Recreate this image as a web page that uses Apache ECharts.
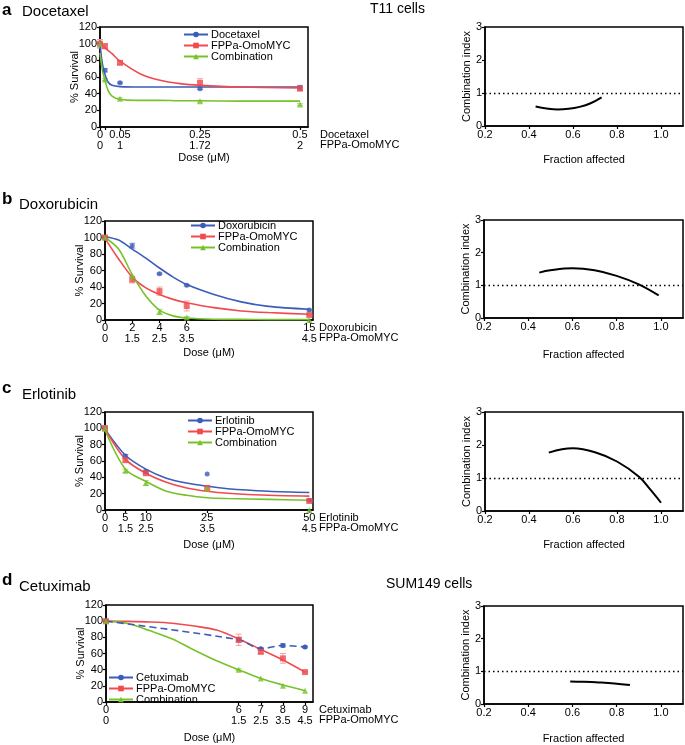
<!DOCTYPE html>
<html>
<head>
<meta charset="utf-8">
<script src="https://cdn.jsdelivr.net/npm/echarts@6/dist/echarts.min.js"></script>
<style>
  html, body { margin: 0; padding: 0; background: #fff; }
  #chart { width: 685px; height: 745px; }
</style>
</head>
<body>
<div id="chart"></div>
<script>
// ---- a: Docetaxel (T11 cells) ----
const aTicks = [0, 0.0125, 0.05, 0.25, 0.5];
const aTickTop = ['0', '', '0.05', '0.25', '0.5'];
const aTickBot = ['0', '', '1', '1.72', '2'];
const aDose = [0, 0.0125, 0.05, 0.25, 0.5];
const aDrug = [100, 68, 53, 46, 47];
const aDrugSd = [5, 2, 1, 1, 3];
const aFppa = [100, 97, 77, 53, 46];
const aFppaSd = [5, 3, 2, 5, 2];
const aCombo = [100, 57, 34, 31, 27];
const aComboSd = [0, 1, 1, 1, 1];
const aFitX = [0, 0.004, 0.008, 0.0125, 0.02, 0.03, 0.05, 0.1, 0.15, 0.2, 0.25, 0.35, 0.5];
const aDrugFit = [100, 82, 71, 63, 54, 50, 48.5, 48, 48, 48, 48, 48, 48];
const aFppaFit = [100, 98.5, 97, 95, 92, 88, 79, 64, 56, 52, 50, 48, 47];
const aComboFit = [89, 74, 64, 56, 44, 37, 33, 32, 32, 31.5, 31.5, 31, 31];
const aFa = [0.43, 0.48, 0.53, 0.58, 0.63, 0.68, 0.73];
const aCi = [0.59, 0.53, 0.50, 0.52, 0.58, 0.69, 0.87];

// ---- b: Doxorubicin ----
const bTicks = [0, 2, 4, 6, 15];
const bTickTop = ['0', '2', '4', '6', '15'];
const bTickBot = ['0', '1.5', '2.5', '3.5', '4.5'];
const bDose = [0, 2, 4, 6, 15];
const bDrug = [100, 90, 56, 42, 12];
const bDrugSd = [1, 3, 1, 1, 1];
const bFppa = [100, 49, 35, 17, 6];
const bFppaSd = [1, 4, 5, 6, 1];
const bCombo = [100, 53, 10, 3, 0];
const bComboSd = [0, 0, 3, 1, 0];
const bFitX = [0, 1, 2, 3, 4, 5, 6, 8, 10, 12, 15];
const bDrugFit = [101, 97, 86, 75, 63, 52, 43, 31, 22, 16.5, 13];
const bFppaFit = [99, 74, 52, 39, 31, 25, 21, 15, 11, 9, 7];
const bComboFit = [100, 86, 55, 29, 12, 5, 2.5, 1, 0.7, 0.5, 0.5];
const bFa = [0.45, 0.5, 0.6, 0.7, 0.8, 0.9, 0.99];
const bCi = [1.39, 1.46, 1.52, 1.46, 1.29, 1.03, 0.69];

// ---- c: Erlotinib ----
const cTicks = [0, 5, 10, 25, 50];
const cTickTop = ['0', '5', '10', '25', '50'];
const cTickBot = ['0', '1.5', '2.5', '3.5', '4.5'];
const cDose = [0, 5, 10, 25, 50];
const cDrug = [100, 66, 47, 44, 12];
const cDrugSd = [3, 2, 2, 0, 1];
const cFppa = [100, 61, 45, 27, 11];
const cFppaSd = [3, 2, 2, 3, 1];
const cCombo = [100, 48, 33, 26, 0];
const cComboSd = [0, 2, 3, 0, 0];
const cFitX = [0, 5, 10, 15, 20, 25, 30, 40, 50];
const cDrugFit = [99, 67, 50, 39, 33, 29, 26, 23, 21.5];
const cFppaFit = [99, 62, 45, 34, 27, 23, 20.5, 18, 17];
const cComboFit = [98, 50, 35, 23, 18, 15, 14, 13, 12];
const cFa = [0.49, 0.55, 0.6, 0.7, 0.8, 0.9, 0.95, 1.0];
const cCi = [1.77, 1.87, 1.9, 1.78, 1.5, 1.04, 0.66, 0.25];

// ---- d: Cetuximab (SUM149 cells) ----
const dTicks = [0, 6, 7, 8, 9];
const dTickTop = ['0', '6', '7', '8', '9'];
const dTickBot = ['0', '1.5', '2.5', '3.5', '4.5'];
const dDose = [0, 6, 7, 8, 9];
const dDrug = [100, 77, 66, 70, 68];
const dDrugSd = [1, 3, 1, 2, 1];
const dFppa = [100, 77, 62, 54, 37];
const dFppaSd = [1, 7, 2, 6, 1];
const dCombo = [100, 40, 29, 20, 14];
const dComboSd = [0, 1, 0, 0, 0];
const dFitX = [0, 1, 2, 3, 4, 5, 6, 7, 8, 9];
const dFppaFit = [100, 99.7, 99, 97.5, 94, 89, 78, 65, 52, 37];
const dComboFit = [100, 97, 88, 78, 64, 51, 40, 29, 21, 14];
const dFa = [0.59, 0.65, 0.72, 0.79, 0.86];
const dCi = [0.69, 0.68, 0.66, 0.63, 0.58];

const BLUE = '#3b5cb8', RED = '#f04a4e', GREEN = '#76c22a';
const BLUE_E = '#8196d6', RED_E = '#f5a0a2', GREEN_E = '#acd77c';
const FONT = '"Liberation Sans", Arial, sans-serif';

const chart = echarts.init(document.getElementById('chart'));

const grids = [], xAxes = [], yAxes = [], series = [], legends = [], graphics = [];

const zip = (xs, ys) => xs.map((x, i) => [x, ys[i]]);

function errBars(gi, xs, ys, sd, color) {
  return {
    type: 'custom', xAxisIndex: gi, yAxisIndex: gi, silent: true, z: 1, clip: false,
    data: xs.map((x, i) => [x, ys[i] - sd[i], ys[i] + sd[i]]).filter(d => d[2] - d[1] > 0),
    renderItem: function (params, api) {
      const lo = api.coord([api.value(0), api.value(1)]);
      const hi = api.coord([api.value(0), api.value(2)]);
      const st = { stroke: color, lineWidth: 1 };
      return { type: 'group', children: [
        { type: 'line', shape: { x1: lo[0], y1: lo[1], x2: hi[0], y2: hi[1] }, style: st },
        { type: 'line', shape: { x1: lo[0] - 3, y1: lo[1], x2: lo[0] + 3, y2: lo[1] }, style: st },
        { type: 'line', shape: { x1: hi[0] - 3, y1: hi[1], x2: hi[0] + 3, y2: hi[1] }, style: st }
      ] };
    }
  };
}

function frame(rect) {
  grids.push(Object.assign({ show: true, borderColor: '#000', borderWidth: 1.5, backgroundColor: 'transparent' }, rect));
  return grids.length - 1;
}

const axisCommon = {
  axisLine: { show: true, lineStyle: { color: '#000', width: 1.5 } },
  axisTick: { show: true, length: 3, lineStyle: { color: '#000', width: 1.2 } },
  splitLine: { show: false },
  nameTextStyle: { fontFamily: FONT, fontSize: 11, color: '#000' }
};

function survivalPanel(rect, p) {
  const gi = frame(rect);
  xAxes.push(Object.assign({}, axisCommon, {
    gridIndex: gi, type: 'value', min: 0, max: p.xMax,
    name: 'Dose (μM)', nameLocation: 'middle', nameGap: p.nameGap,
    axisTick: Object.assign({}, axisCommon.axisTick, { customValues: p.ticks }),
    axisLabel: {
      customValues: p.ticks, margin: 3, fontFamily: FONT, fontSize: 11, color: '#000', lineHeight: 10.5,
      formatter: v => { const i = p.ticks.indexOf(v); return i < 0 ? '' : p.top[i] + '\n' + p.bot[i]; }
    }
  }));
  yAxes.push(Object.assign({}, axisCommon, {
    gridIndex: gi, type: 'value', min: 0, max: 120, interval: 20,
    name: '% Survival', nameLocation: 'middle', nameGap: 20, nameMoveOverlap: false,
    axisLabel: { margin: 3, fontFamily: FONT, fontSize: 11, color: '#000' }
  }));
  const sets = [
    [p.names[0], BLUE, BLUE_E, 'circle', 5, p.drug, p.drugSd, p.drugFit],
    [p.names[1], RED, RED_E, 'rect', 6, p.fppa, p.fppaSd, p.fppaFit],
    [p.names[2], GREEN, GREEN_E, 'triangle', 6, p.combo, p.comboSd, p.comboFit]
  ];
  sets.forEach(([name, col, ecol, sym, size, ys, sd, fit]) => {
    series.push(errBars(gi, p.dose, ys, sd, ecol));
    if (fit) {
      series.push({
        name: name, type: 'line', xAxisIndex: gi, yAxisIndex: gi, data: zip(p.fitX, fit),
        smooth: 0.3, symbol: sym, symbolSize: size, showSymbol: false,
        lineStyle: { color: col, width: 1.6 }, itemStyle: { color: col }, z: 2, silent: true
      });
      series.push({
        name: name + ' data', type: 'scatter', xAxisIndex: gi, yAxisIndex: gi, data: zip(p.dose, ys),
        symbol: sym, symbolSize: size, itemStyle: { color: col }, z: 3, clip: false
      });
    } else {
      // connected dashed line through the measured points
      series.push({
        name: name, type: 'line', xAxisIndex: gi, yAxisIndex: gi, data: zip(p.dose, ys),
        smooth: 0.3, symbol: sym, symbolSize: size, showSymbol: true,
        lineStyle: { color: col, width: 1.6, type: [7, 4] }, itemStyle: { color: col }, z: 3
      });
    }
  });
  legends.push({
    data: p.names, left: p.legend[0], top: p.legend[1], orient: 'vertical',
    itemWidth: 24, itemHeight: 7, itemGap: 0, padding: 0, selectedMode: false,
    lineStyle: { type: 'solid' },
    textStyle: { fontFamily: FONT, fontSize: 11, color: '#000', lineHeight: 10.5, padding: [0, 0, 0, -2] }
  });
  graphics.push({
    type: 'text', left: p.sideX, top: rect.top + rect.height + 2,
    style: { text: p.names[0] + '\nFPPa-OmoMYC', font: '11px ' + FONT, fill: '#000', lineHeight: 10.5 }
  });
}

function ciPanel(rect, fa, ci, nameGap) {
  const gi = frame(rect);
  xAxes.push(Object.assign({}, axisCommon, {
    gridIndex: gi, type: 'value', min: 0.2, max: 1.1,
    name: 'Fraction affected', nameLocation: 'middle', nameGap: nameGap,
    axisTick: Object.assign({}, axisCommon.axisTick, { customValues: [0.2, 0.4, 0.6, 0.8, 1.0] }),
    axisLabel: { customValues: [0.2, 0.4, 0.6, 0.8, 1.0], margin: 3, fontFamily: FONT, fontSize: 11, color: '#000',
      formatter: v => v.toFixed(1) }
  }));
  yAxes.push(Object.assign({}, axisCommon, {
    gridIndex: gi, type: 'value', min: 0, max: 3, interval: 1,
    name: 'Combination index', nameLocation: 'middle', nameGap: 13,
    axisLabel: { margin: 3, fontFamily: FONT, fontSize: 11, color: '#000' }
  }));
  series.push({
    type: 'line', xAxisIndex: gi, yAxisIndex: gi, data: zip(fa, ci), smooth: 0.4, showSymbol: false,
    symbol: 'none', lineStyle: { color: '#000', width: 2 }, silent: true,
    markLine: { silent: true, symbol: 'none', label: { show: false },
      lineStyle: { color: '#000', type: [1.5, 3], width: 1.4 }, data: [{ yAxis: 1 }] }
  });
}

survivalPanel({ left: 100, top: 27, width: 208, height: 100 }, {
  xMax: 0.52, ticks: aTicks, top: aTickTop, bot: aTickBot, nameGap: 25, sideX: 320,
  names: ['Docetaxel', 'FPPa-OmoMYC', 'Combination'], legend: [183, 29],
  dose: aDose, drug: aDrug, drugSd: aDrugSd, fppa: aFppa, fppaSd: aFppaSd, combo: aCombo, comboSd: aComboSd,
  fitX: aFitX, drugFit: aDrugFit, fppaFit: aFppaFit, comboFit: aComboFit
});
ciPanel({ left: 485, top: 27, width: 198, height: 99 }, aFa, aCi, 28);

survivalPanel({ left: 105, top: 221, width: 208, height: 99 }, {
  xMax: 15.27, ticks: bTicks, top: bTickTop, bot: bTickBot, nameGap: 27, sideX: 319,
  names: ['Doxorubicin', 'FPPa-OmoMYC', 'Combination'], legend: [190, 220],
  dose: bDose, drug: bDrug, drugSd: bDrugSd, fppa: bFppa, fppaSd: bFppaSd, combo: bCombo, comboSd: bComboSd,
  fitX: bFitX, drugFit: bDrugFit, fppaFit: bFppaFit, comboFit: bComboFit
});
ciPanel({ left: 484, top: 220, width: 199, height: 98 }, bFa, bCi, 31);

survivalPanel({ left: 105, top: 412, width: 208, height: 98 }, {
  xMax: 50.9, ticks: cTicks, top: cTickTop, bot: cTickBot, nameGap: 29, sideX: 319,
  names: ['Erlotinib', 'FPPa-OmoMYC', 'Combination'], legend: [187, 415],
  dose: cDose, drug: cDrug, drugSd: cDrugSd, fppa: cFppa, fppaSd: cFppaSd, combo: cCombo, comboSd: cComboSd,
  fitX: cFitX, drugFit: cDrugFit, fppaFit: cFppaFit, comboFit: cComboFit
});
ciPanel({ left: 485, top: 412, width: 198, height: 99 }, cFa, cCi, 28);

survivalPanel({ left: 106, top: 605, width: 207, height: 97 }, {
  xMax: 9.36, ticks: dTicks, top: dTickTop, bot: dTickBot, nameGap: 30, sideX: 319,
  names: ['Cetuximab', 'FPPa-OmoMYC', 'Combination'], legend: [108, 672],
  dose: dDose, drug: dDrug, drugSd: dDrugSd, fppa: dFppa, fppaSd: dFppaSd, combo: dCombo, comboSd: dComboSd,
  fitX: dFitX, drugFit: null, fppaFit: dFppaFit, comboFit: dComboFit
});
ciPanel({ left: 484, top: 606, width: 199, height: 99 }, dFa, dCi, 29);

// panel letters, drug titles and cell-line labels
const titles = [
  ['a', 2, 2, 'Docetaxel', 22, 4],
  ['b', 2, 191, 'Doxorubicin', 19, 197],
  ['c', 2, 380, 'Erlotinib', 22, 387],
  ['d', 2, 572, 'Cetuximab', 19, 579]
];
titles.forEach(([ch, lx, ly, name, nx, ny]) => {
  graphics.push({ type: 'text', left: lx, top: ly,
    style: { text: ch, font: 'bold 17px ' + FONT, fill: '#000' } });
  graphics.push({ type: 'text', left: nx, top: ny,
    style: { text: name, font: '15px ' + FONT, fill: '#000' } });
});
graphics.push({ type: 'text', left: 370, top: 2, style: { text: 'T11 cells', font: '14px ' + FONT, fill: '#000' } });
graphics.push({ type: 'text', left: 386, top: 577, style: { text: 'SUM149 cells', font: '14px ' + FONT, fill: '#000' } });

chart.setOption({
  animation: false,
  textStyle: { fontFamily: FONT },
  grid: grids,
  xAxis: xAxes,
  yAxis: yAxes,
  legend: legends,
  graphic: graphics,
  series: series
});
window.addEventListener('resize', function () { chart.resize(); });
</script>
</body>
</html>
